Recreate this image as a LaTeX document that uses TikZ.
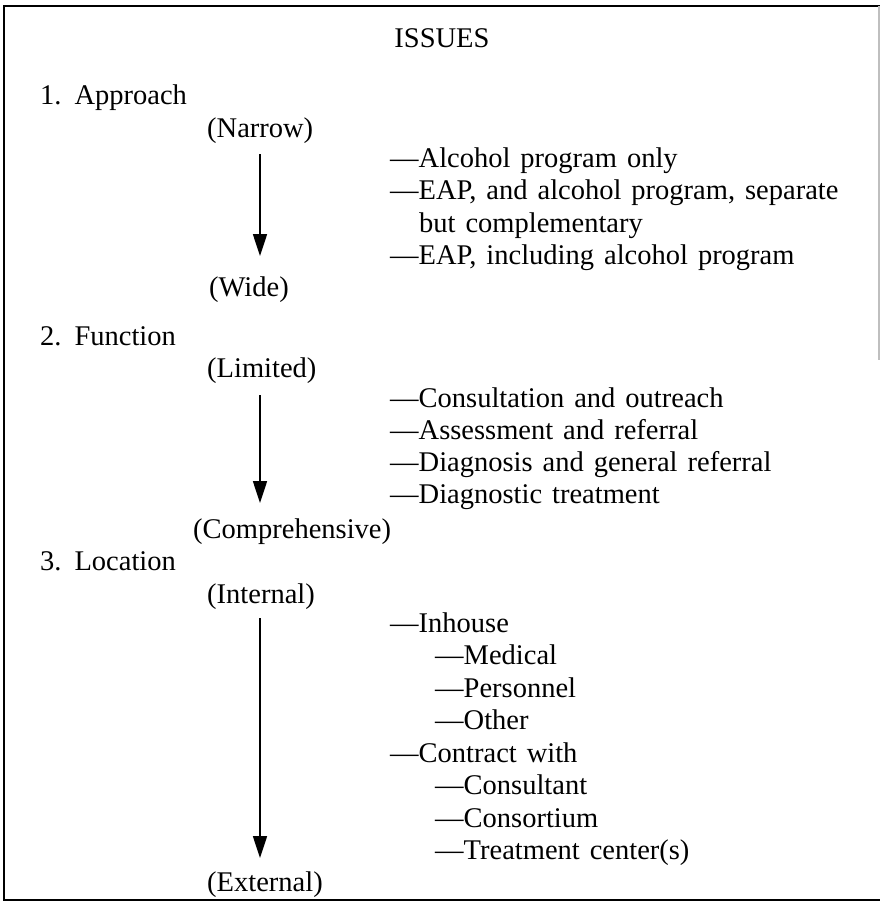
\documentclass[tikz,border=0pt]{standalone}
\usepackage{fontspec}
\setmainfont{Liberation Serif}[WordSpace=1.4]
\usetikzlibrary{arrows.meta}
\tikzset{
  txt/.style={anchor=base west, inner sep=0pt, font=\fontsize{28.5}{32}\selectfont},
  ttl/.style={anchor=base, inner sep=0pt, font=\fontsize{28.5}{32}\selectfont},
  flow/.style={line width=1.7pt, -{Triangle[width=14pt,length=22pt]}},
  frame/.style={line width=1.6pt, line cap=rect},
  faint/.style={line width=1.2pt, black!25}
}
\begin{document}
\begin{tikzpicture}[x=1pt,y=-1pt]
\useasboundingbox (0,0) rectangle (880,903);
% frame
\coordinate (tl) at (4,6);
\coordinate (tr) at (880,6);
\coordinate (bl) at (4,900);
\coordinate (br) at (880,900);
\coordinate (rt) at (879,6);
\coordinate (rm) at (879,360);
\draw[frame] (tr) -- (tl) -- (bl) -- (br);
\draw[faint] (rt) -- (rm);

% title
\node[ttl] (issues) at (442,47) {ISSUES};

% 1. Approach
\node[txt] (h1) at (40,104) {1.\hspace{13pt}Approach};
\node[txt] (narrow) at (207,137) {(Narrow)};
\node[txt] (wide) at (209,296) {(Wide)};
\coordinate (a1s) at (260,154);
\coordinate (a1e) at (260,256);
\draw[flow] (a1s) -- (a1e);
\node[txt] (p1) at (390,167) {—Alcohol program only};
\node[txt] (p2) at (390,199) {—EAP, and alcohol program, separate};
\node[txt] (p2b) at (419,232) {but complementary};
\node[txt] (p3) at (390,264) {—EAP, including alcohol program};

% 2. Function
\node[txt] (h2) at (40,345) {2.\hspace{13pt}Function};
\node[txt] (limited) at (207,377) {(Limited)};
\node[txt] (compr) at (193,538) {(Comprehensive)};
\coordinate (a2s) at (260,395);
\coordinate (a2e) at (260,503);
\draw[flow] (a2s) -- (a2e);
\node[txt] (f1) at (390,407) {—Consultation and outreach};
\node[txt] (f2) at (390,439) {—Assessment and referral};
\node[txt] (f3) at (390,471) {—Diagnosis and general referral};
\node[txt] (f4) at (390,503) {—Diagnostic treatment};

% 3. Location
\node[txt] (h3) at (40,570) {3.\hspace{13pt}Location};
\node[txt] (internal) at (207,603) {(Internal)};
\node[txt] (external) at (207,891) {(External)};
\coordinate (a3s) at (260,618);
\coordinate (a3e) at (260,858);
\draw[flow] (a3s) -- (a3e);
\node[txt] (l1) at (390,632) {—Inhouse};
\node[txt] (l1a) at (435,664.5) {—Medical};
\node[txt] (l1b) at (435,697) {—Personnel};
\node[txt] (l1c) at (435,729.5) {—Other};
\node[txt] (l2) at (390,762) {—Contract with};
\node[txt] (l2a) at (435,794.5) {—Consultant};
\node[txt] (l2b) at (435,827) {—Consortium};
\node[txt] (l2c) at (435,859.5) {—Treatment center(s)};
\end{tikzpicture}
\end{document}
